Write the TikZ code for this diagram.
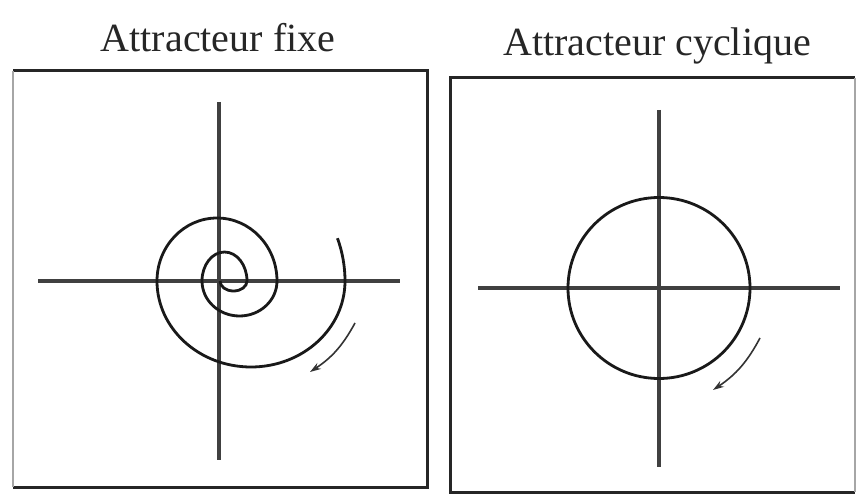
\documentclass[tikz,border=0pt]{standalone}
\usepackage{fontspec}
\setmainfont{Liberation Serif}
\usetikzlibrary{arrows.meta}
\begin{document}
\begin{tikzpicture}[x=1pt,y=1pt,
  frame/.style={line width=3pt,black!85},
  faint/.style={line width=1.6pt,black!35},
  axis/.style={line width=3.4pt,black!75},
  curve/.style={line width=2.8pt,black!90},
  flow/.style={line width=1.6pt,black!80,-{Stealth[length=11pt,width=7pt]}},
  title/.style={anchor=base,font=\fontsize{40}{40}\selectfont,text=black!85}]
\useasboundingbox (0,0) rectangle (861,496);
\fill[white] (0,0) rectangle (861,496);
% titles
\node[title] (t1) at (218,444) {Attracteur fixe};
\node[title] (t2) at (657,440) {Attracteur cyclique};
% left frame
\coordinate (a1) at (13,425); \coordinate (a2) at (427,425);
\coordinate (a3) at (427,9);  \coordinate (a4) at (13,9);
\draw[frame] (a1) -- (a2) -- (a3) -- (a4);
\draw[faint] (a4) -- (a1);
% right frame
\coordinate (b1) at (855,418); \coordinate (b2) at (450,418);
\coordinate (b3) at (450,4);   \coordinate (b4) at (855,4);
\draw[frame] (b1) -- (b2) -- (b3) -- (b4);
\draw[faint] (b4) -- (b1);
% left axes
\coordinate (lv1) at (219,394); \coordinate (lv2) at (219,36);
\coordinate (lh1) at (38,215);  \coordinate (lh2) at (400,215);
\draw[axis] (lv1) -- (lv2);
\draw[axis] (lh1) -- (lh2);
% spiral
\coordinate (s0) at (220,215);
\draw[curve] (s0)
  arc[start angle=180,end angle=360,x radius=13.5,y radius=10]
  arc[start angle=0,end angle=180,x radius=22.5,y radius=29]
  arc[start angle=180,end angle=360,x radius=37.5,y radius=35]
  arc[start angle=0,end angle=180,x radius=60,y radius=63]
  arc[start angle=180,end angle=360,x radius=94,y radius=86]
  arc[start angle=0,end angle=20,x radius=125,y radius=125];
\coordinate (la1) at (355,173); \coordinate (la2) at (310,124);
\draw[flow] (la1) to[bend left=14] (la2);
% right axes
\coordinate (rv1) at (659,386); \coordinate (rv2) at (659,29);
\coordinate (rh1) at (478,208); \coordinate (rh2) at (840,208);
\draw[axis] (rv1) -- (rv2);
\draw[axis] (rh1) -- (rh2);
\coordinate (c0) at (659,208);
\draw[curve] (c0) ellipse[x radius=91,y radius=90.5];
\coordinate (ra1) at (760,158); \coordinate (ra2) at (713,106);
\draw[flow] (ra1) to[bend left=14] (ra2);
\end{tikzpicture}
\end{document}
